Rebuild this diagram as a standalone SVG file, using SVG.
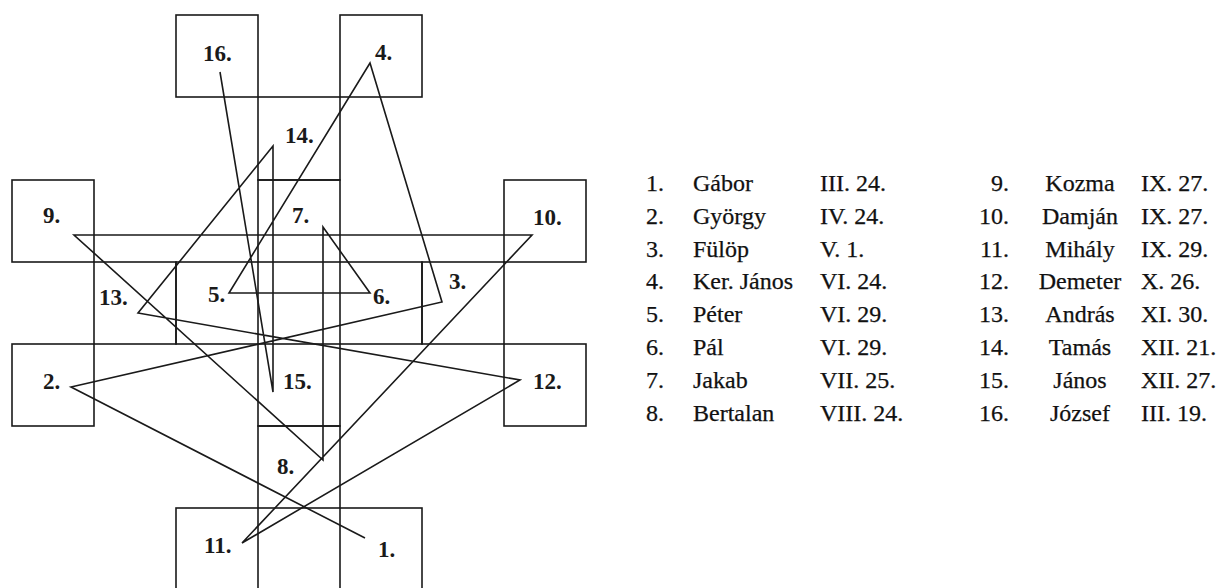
<svg xmlns="http://www.w3.org/2000/svg" width="1221" height="588" viewBox="0 0 1221 588">
<style>
.box{fill:none;stroke:#1a1a1a;stroke-width:1.6}
.lbl{font-family:'Liberation Serif','DejaVu Serif',serif;font-size:23px;font-weight:bold;fill:#1a1a1a}
.con{fill:none;stroke:#1a1a1a;stroke-width:1.6;stroke-linejoin:miter}
.tb{font-family:'Liberation Serif','DejaVu Serif',serif;font-size:24px;fill:#111;stroke:#111;stroke-width:0.25}
</style>
<rect width="1221" height="588" fill="#fff"/>
<g id="n16"><rect class="box" x="176" y="15" width="82" height="82"/><text class="lbl" x="203" y="61">16.</text></g>
<g id="n4"><rect class="box" x="340" y="15" width="82" height="82"/><text class="lbl" x="375" y="60">4.</text></g>
<g id="n14"><rect class="box" x="258" y="97" width="82" height="83"/><text class="lbl" x="285" y="143">14.</text></g>
<g id="n9"><rect class="box" x="12" y="180" width="82" height="82"/><text class="lbl" x="43" y="223">9.</text></g>
<g id="n7"><rect class="box" x="258" y="180" width="82" height="82"/><text class="lbl" x="292" y="223">7.</text></g>
<g id="n10"><rect class="box" x="504" y="180" width="82" height="82"/><text class="lbl" x="533" y="225">10.</text></g>
<g id="n13"><rect class="box" x="94" y="262" width="82" height="82"/><text class="lbl" x="99" y="305">13.</text></g>
<g id="n5"><rect class="box" x="176" y="262" width="82" height="82"/><text class="lbl" x="208" y="302">5.</text></g>
<g id="n6"><rect class="box" x="340" y="262" width="82" height="82"/><text class="lbl" x="373" y="304">6.</text></g>
<g id="n3"><rect class="box" x="422" y="262" width="82" height="82"/><text class="lbl" x="449" y="289">3.</text></g>
<g id="n2"><rect class="box" x="12" y="344" width="82" height="82"/><text class="lbl" x="43" y="389">2.</text></g>
<g id="n15"><rect class="box" x="258" y="344" width="82" height="82"/><text class="lbl" x="283" y="389">15.</text></g>
<g id="n12"><rect class="box" x="504" y="344" width="82" height="82"/><text class="lbl" x="533" y="389">12.</text></g>
<g id="n8"><rect class="box" x="258" y="426" width="82" height="82"/><text class="lbl" x="277" y="474">8.</text></g>
<g id="n11"><rect class="box" x="176" y="508" width="82" height="84"/><text class="lbl" x="204" y="553">11.</text></g>
<g id="n1"><rect class="box" x="340" y="508" width="82" height="84"/><text class="lbl" x="378" y="557">1.</text></g>
<g id="connectors">
<polyline class="con" points="365,538 71,387 442,302 370,63 229,293 370,293 323,227 323,460 74,235 532,235 242,543 520,380 138,313 273,146 273,392 220,72"/>
</g>
<g id="table-left" class="tb">
<text x="646" y="191">1.</text><text x="693" y="191">Gábor</text><text x="820" y="191">III. 24.</text>
<text x="646" y="224">2.</text><text x="693" y="224">György</text><text x="820" y="224">IV. 24.</text>
<text x="646" y="257">3.</text><text x="693" y="257">Fülöp</text><text x="820" y="257">V. 1.</text>
<text x="646" y="289">4.</text><text x="693" y="289">Ker. János</text><text x="820" y="289">VI. 24.</text>
<text x="646" y="322">5.</text><text x="693" y="322">Péter</text><text x="820" y="322">VI. 29.</text>
<text x="646" y="355">6.</text><text x="693" y="355">Pál</text><text x="820" y="355">VI. 29.</text>
<text x="646" y="388">7.</text><text x="693" y="388">Jakab</text><text x="820" y="388">VII. 25.</text>
<text x="646" y="421">8.</text><text x="693" y="421">Bertalan</text><text x="820" y="421">VIII. 24.</text>
</g>
<g id="table-right" class="tb">
<g text-anchor="end">
<text x="1009" y="191">9.</text><text x="1009" y="224">10.</text><text x="1009" y="257">11.</text><text x="1009" y="289">12.</text>
<text x="1009" y="322">13.</text><text x="1009" y="355">14.</text><text x="1009" y="388">15.</text><text x="1009" y="421">16.</text>
</g>
<g text-anchor="middle">
<text x="1080" y="191">Kozma</text><text x="1080" y="224">Damján</text><text x="1080" y="257">Mihály</text><text x="1080" y="289">Demeter</text>
<text x="1080" y="322">András</text><text x="1080" y="355">Tamás</text><text x="1080" y="388">János</text><text x="1080" y="421">József</text>
</g>
<text x="1141" y="191">IX. 27.</text><text x="1141" y="224">IX. 27.</text><text x="1141" y="257">IX. 29.</text><text x="1141" y="289">X. 26.</text>
<text x="1141" y="322">XI. 30.</text><text x="1141" y="355">XII. 21.</text><text x="1141" y="388">XII. 27.</text><text x="1141" y="421">III. 19.</text>
</g>
</svg>
